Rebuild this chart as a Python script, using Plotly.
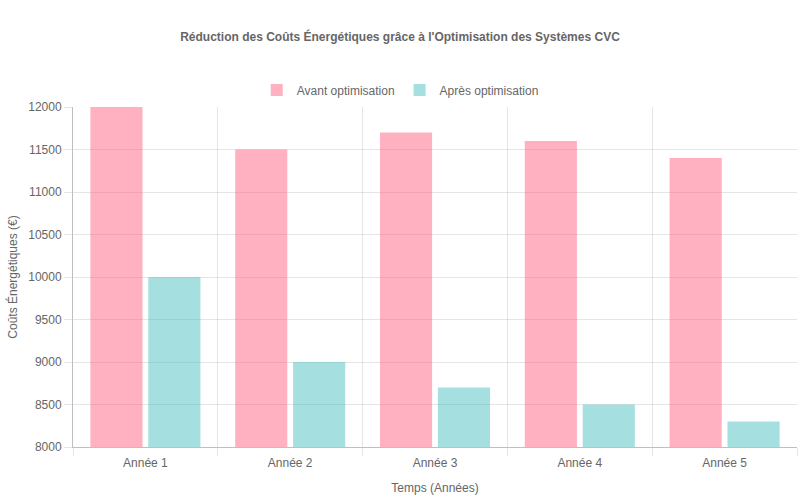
import plotly.graph_objects as go

years = ['Année 1', 'Année 2', 'Année 3', 'Année 4', 'Année 5']
before = [12000, 11500, 11700, 11600, 11400]
after = [10000, 9000, 8700, 8500, 8300]

font = 'Liberation Sans, Arial, sans-serif'
grid = 'rgba(0,0,0,0.1)'

fig = go.Figure()
fig.add_trace(go.Bar(x=years, y=before, name='Avant optimisation',
                     marker=dict(color='rgba(255,99,132,0.5)', line=dict(width=0))))
fig.add_trace(go.Bar(x=years, y=after, name='Après optimisation',
                     marker=dict(color='rgba(75,192,192,0.5)', line=dict(width=0))))

fig.update_layout(
    width=800, height=500,
    margin=dict(l=73, r=3, t=107, b=53, autoexpand=False),
    paper_bgcolor='white', plot_bgcolor='white',
    font=dict(family=font, size=12, color='#666'),
    title=dict(text="<b>Réduction des Coûts Énergétiques grâce à l'Optimisation des Systèmes CVC</b>",
               x=0.5, xanchor='center', y=0.926, yanchor='middle',
               font=dict(size=12, color='#666')),
    # centre the legend on the page, not on the plot area
    legend=dict(orientation='h', x=0.452, xanchor='center',
                y=1.05, yanchor='middle', font=dict(size=12, color='#666')),
    barmode='group', bargap=0.2, bargroupgap=0.1,
)
fig.update_xaxes(
    title=dict(text='Temps (Années)', standoff=14, font=dict(size=12, color='#666')),
    tickson='boundaries', showgrid=True, gridcolor=grid,
    ticks='outside', ticklen=8, tickcolor=grid, ticklabelstandoff=5,
    showline=True, linecolor='rgba(0,0,0,0.25)', zeroline=False,
)
fig.update_yaxes(
    title=dict(text='Coûts Énergétiques (€)', standoff=8, font=dict(size=12, color='#666')),
    range=[8000, 12000], dtick=500, showgrid=True, gridcolor=grid,
    ticks='outside', ticklen=8, tickcolor=grid,
    showline=True, linecolor='rgba(0,0,0,0.25)', zeroline=False,
    tickformat='d',
)

fig.write_html('out.html', config={'displayModeBar': False},
               post_script="document.body.style.margin='0';")
